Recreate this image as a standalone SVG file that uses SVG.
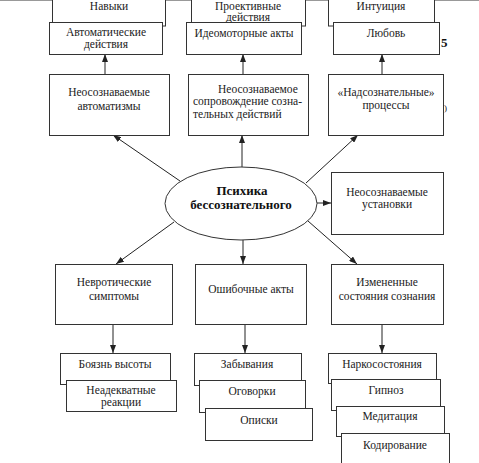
<svg xmlns="http://www.w3.org/2000/svg" width="479" height="463" viewBox="0 0 479 463">
<defs>
<marker id="ah" viewBox="0 0 8 6" refX="8" refY="3" markerWidth="8" markerHeight="6" markerUnits="userSpaceOnUse" orient="auto">
<path d="M0,0 L8,3 L0,6 z" fill="#222"/>
</marker>
</defs>
<style>
.b{fill:#fff;stroke:#333;stroke-width:1}
.t{font-family:'Liberation Serif','Times New Roman',serif;font-size:11.5px;fill:#222;text-anchor:middle}
.h{font-family:'Liberation Serif','Times New Roman',serif;font-size:13px;font-weight:bold;fill:#111;text-anchor:middle}
.c{stroke:#222;stroke-width:1;fill:none;marker-end:url(#ah)}
</style>
<rect width="479" height="463" fill="#fff"/>
<line x1="0" y1="0.5" x2="479" y2="0.5" stroke="#999" stroke-width="1"/>

<g id="connectors">
<line class="c" x1="105" y1="74" x2="105" y2="54"/>
<line class="c" x1="243" y1="74" x2="243" y2="54"/>
<line class="c" x1="382" y1="74" x2="382" y2="54"/>
<line class="c" x1="242" y1="167" x2="242" y2="135"/>
<line class="c" x1="180" y1="181" x2="113" y2="135"/>
<line class="c" x1="306" y1="183" x2="358" y2="135"/>
<line class="c" x1="317" y1="203" x2="331" y2="203"/>
<line class="c" x1="174" y1="222" x2="116" y2="264"/>
<line class="c" x1="243" y1="240" x2="243" y2="264"/>
<line class="c" x1="308" y1="221" x2="357" y2="264"/>
<line class="c" x1="113" y1="325" x2="113" y2="353"/>
<line class="c" x1="245" y1="325" x2="245" y2="353"/>
<line class="c" x1="382" y1="325" x2="382" y2="353"/>
</g>

<g id="n-navyki"><rect class="b" x="52.5" y="-10" width="113" height="36"/><text class="t" x="109" y="10">Навыки</text></g>
<g id="n-avtomat"><rect class="b" x="49.5" y="22.5" width="113" height="32"/><text class="t" x="106" y="36">Автоматические</text><text class="t" x="106" y="48">действия</text></g>
<g id="n-proekt"><rect class="b" x="191.5" y="-10" width="114" height="36"/><text class="t" x="248" y="9.5">Проективные</text><text class="t" x="248" y="21">действия</text></g>
<g id="n-ideo"><rect class="b" x="186.5" y="22.5" width="115" height="32"/><text class="t" x="244" y="37">Идеомоторные акты</text></g>
<g id="n-intu"><rect class="b" x="328.5" y="-10" width="106" height="36"/><text class="t" x="381" y="10">Интуиция</text></g>
<g id="n-lubov"><rect class="b" x="333.5" y="22.5" width="106" height="32"/><text class="t" x="386" y="37">Любовь</text></g>
<text x="441" y="47" style="font-family:'Liberation Serif',serif;font-size:13px;font-weight:bold;fill:#111">5</text>

<g id="n-neo-avt"><rect class="b" x="49.5" y="74.5" width="120" height="61"/><text class="t" x="109" y="96">Неосознаваемые</text><text class="t" x="109" y="110">автоматизмы</text></g>
<g id="n-neo-sopr"><rect class="b" x="188.5" y="74.5" width="120" height="61"/><text class="t" x="218" y="93" style="text-anchor:start">Неосознаваемое</text><text class="t" x="193" y="105" style="text-anchor:start" textLength="109" lengthAdjust="spacing">сопровождение созна-</text><text class="t" x="193" y="118" style="text-anchor:start">тельных действий</text></g>
<g id="n-nadsoz"><rect class="b" x="328.5" y="74.5" width="115" height="61"/><text class="t" x="386" y="96">«Надсознательные»</text><text class="t" x="386" y="109">процессы</text></g>
<text x="444" y="111" style="font-family:'Liberation Serif',serif;font-size:9px;fill:#222">)</text>

<g id="n-center"><ellipse cx="241" cy="203.5" rx="76" ry="36.5" fill="#fff" stroke="#333" stroke-width="1"/><text class="h" x="242" y="195">Психика</text><text class="h" x="241" y="209">бессознательного</text></g>
<g id="n-ustan"><rect class="b" x="331.5" y="172.5" width="112" height="62"/><text class="t" x="387" y="196">Неосознаваемые</text><text class="t" x="387" y="208">установки</text></g>

<g id="n-nevr"><rect class="b" x="55.5" y="264.5" width="117" height="60"/><text class="t" x="114" y="286">Невротические</text><text class="t" x="114" y="300">симптомы</text></g>
<g id="n-osh"><rect class="b" x="195.5" y="264.5" width="111" height="60"/><text class="t" x="251" y="293">Ошибочные акты</text></g>
<g id="n-izm"><rect class="b" x="331.5" y="264.5" width="112" height="60"/><text class="t" x="387" y="286">Измененные</text><text class="t" x="387" y="300">состояния сознания</text></g>

<g id="n-boyazn"><rect class="b" x="60.5" y="353.5" width="110" height="31"/><text class="t" x="115" y="368">Боязнь высоты</text></g>
<g id="n-neadekv"><rect class="b" x="66.5" y="380.5" width="110" height="31"/><text class="t" x="121" y="394">Неадекватные</text><text class="t" x="121" y="406">реакции</text></g>

<g id="n-zab"><rect class="b" x="194.5" y="353.5" width="107" height="32"/><text class="t" x="247" y="368">Забывания</text></g>
<g id="n-ogov"><rect class="b" x="199.5" y="380.5" width="106" height="32"/><text class="t" x="252" y="395">Оговорки</text></g>
<g id="n-opis"><rect class="b" x="205.5" y="408.5" width="107" height="32"/><text class="t" x="259" y="424">Описки</text></g>

<g id="n-narko"><rect class="b" x="328.5" y="353.5" width="108" height="30"/><text class="t" x="382" y="368">Наркосостояния</text></g>
<g id="n-gipnoz"><rect class="b" x="331.5" y="379.5" width="109" height="31"/><text class="t" x="386" y="394">Гипноз</text></g>
<g id="n-medit"><rect class="b" x="336.5" y="406.5" width="108" height="30"/><text class="t" x="390" y="420">Медитация</text></g>
<g id="n-kodir"><rect class="b" x="341.5" y="433.5" width="108" height="40"/><text class="t" x="395" y="449">Кодирование</text></g>
</svg>
